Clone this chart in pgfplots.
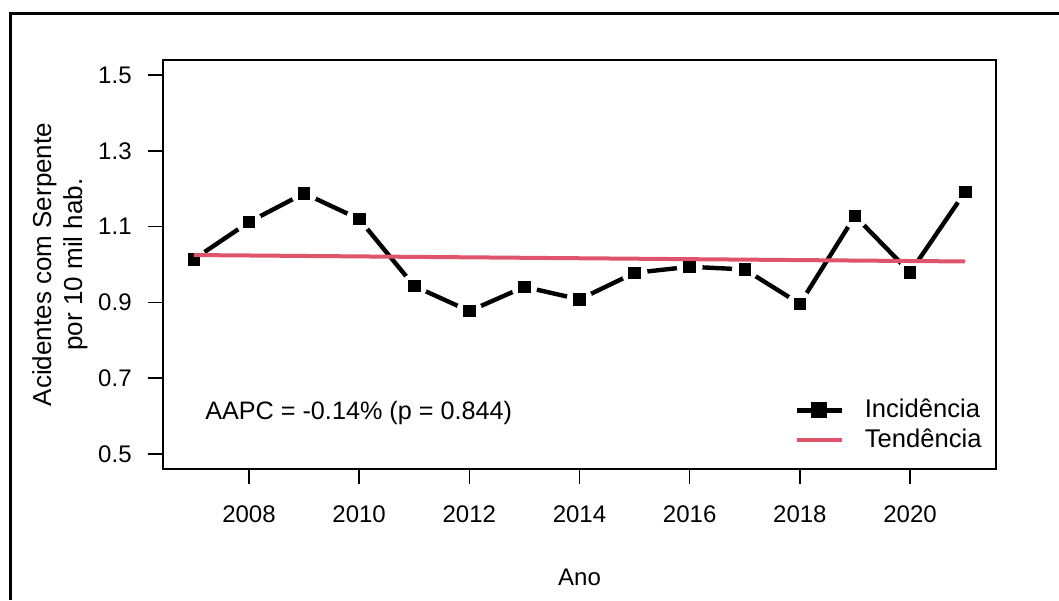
\documentclass[border=0pt]{standalone}
\usepackage{pgfplots}
\pgfplotsset{compat=1.18}
\usepackage{fontspec}
\setmainfont{Liberation Sans}
\definecolor{rred}{HTML}{DF536B}
\begin{document}
\begin{tikzpicture}
\useasboundingbox (0pt,0pt) rectangle (529.5pt,300pt);
\draw[line width=1.4pt] (5.35pt,0pt) -- (5.35pt,293.2pt) -- (529.5pt,293.2pt);
\begin{axis}[
  at={(81.5pt,65.5pt)}, anchor=south west,
  scale only axis, width=416.5pt, height=204.5pt,
  clip mode=individual,
  xmin=2006.44, xmax=2021.56, ymin=0.46, ymax=1.54,
  xtick={2008,2010,2012,2014,2016,2018,2020},
  ytick={0.5,0.7,0.9,1.1,1.3,1.5},
  /pgf/number format/assume math mode=true,
  xticklabel style={/pgf/number format/1000 sep={}, anchor=north, inner sep=0pt, yshift=-10.5pt},
  yticklabel style={/pgf/number format/.cd, fixed, fixed zerofill, precision=1, /tikz/.cd, anchor=east, inner sep=0pt, xshift=-8pt},
  tick align=outside, major tick length=7.5pt,
  tick style={black, line width=0.8pt},
  xtick pos=left, ytick pos=left,
  axis line style={line width=0.8pt},
  font=\fontsize{12}{14}\selectfont,
  xlabel={Ano},
  xlabel style={at={(axis description cs:0.5,0)}, anchor=base, inner sep=0pt, yshift=-58pt},
  ylabel={Acidentes com Serpente\\por 10 mil hab.},
  ylabel style={at={(axis description cs:-0.0900,0.5)}, anchor=south, inner sep=0pt, align=center, font=\fontsize{13}{15.5}\selectfont},
  legend image code/.code={\draw[mark repeat=2, mark phase=2] plot coordinates {(0pt,0pt) (11.25pt,0pt) (22.5pt,0pt)};},
  legend style={at={(0.7575,0.1785)}, anchor=north west, draw=none, fill=none, inner sep=0pt, column sep=9pt, row sep=1pt,
    nodes={inner sep=1.5pt, text height=9pt, text depth=2pt}, font=\fontsize{12.8}{14}\selectfont},
  legend cell align=left,
]
\addplot[black, line width=2.2pt, mark=*, mark size=6.4pt, mark options={fill=white, draw=white, line width=0.1pt}, forget plot] table {
x y
2007 1.014
2008 1.112
2009 1.188
2010 1.120
2011 0.943
2012 0.877
2013 0.941
2014 0.908
2015 0.978
2016 0.994
2017 0.987
2018 0.896
2019 1.128
2020 0.979
2021 1.192
};
\addplot[only marks, black, mark=square*, mark size=2.9pt, forget plot] table {
x y
2007 1.014
2008 1.112
2009 1.188
2010 1.120
2011 0.943
2012 0.877
2013 0.941
2014 0.908
2015 0.978
2016 0.994
2017 0.987
2018 0.896
2019 1.128
2020 0.979
2021 1.192
};
\addplot[rred, line width=2pt, forget plot] coordinates {(2007,1.025) (2021,1.008)};
\addlegendimage{black, line width=2.2pt, mark=square*, mark size=2.9pt}
\addlegendentry{Incidência}
\addlegendimage{rred, line width=2pt}
\addlegendentry{Tendência}
\node[anchor=west, inner sep=0pt, font=\fontsize{12.6}{14}\selectfont] at (axis cs:2007.2,0.608) {AAPC = -0.14\% (p = 0.844)};
\end{axis}
\end{tikzpicture}
\end{document}
